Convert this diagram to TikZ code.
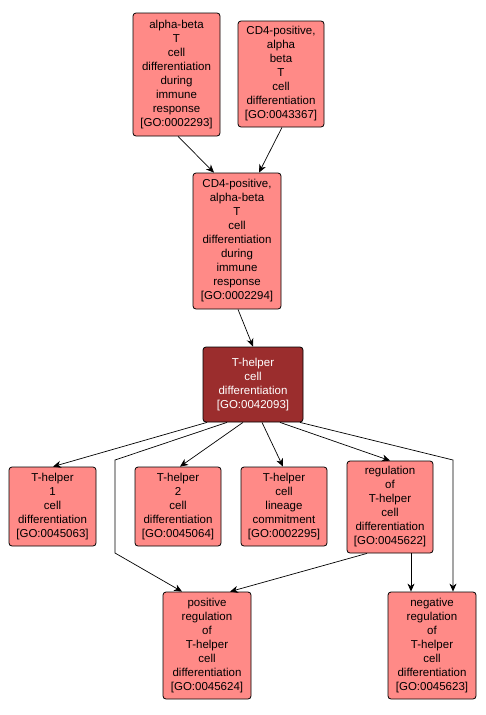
\documentclass[tikz,border=0pt]{standalone}
\usepackage{fontspec}
\setmainfont{Liberation Sans}
\usetikzlibrary{arrows.meta}
\definecolor{goLight}{HTML}{FF8A87}
\definecolor{goDark}{HTML}{9B2D2D}
\tikzset{
  gobox/.style={draw=black, line width=0.8pt, rounded corners=3pt, fill=goLight,
    align=center, inner sep=0pt, font=\fontsize{11.5}{14}\selectfont},
  godark/.style={gobox, fill=goDark, text=white},
  edge/.style={draw=black, line width=0.7pt, -{Stealth[length=8pt,width=7pt,inset=2.5pt]}},
}
\begin{document}
\begin{tikzpicture}[x=1pt,y=-1pt]
\useasboundingbox[fill=white] (0,0) rectangle (485,715);
\node[gobox, minimum width=87pt, minimum height=123pt] (A) at (176.5,74.5) {alpha-beta\\T\\cell\\differentiation\\during\\immune\\response\\{[}GO:0002293{]}};
\node[gobox, minimum width=86pt, minimum height=106pt] (B) at (281,74) {CD4-positive,\\alpha\\beta\\T\\cell\\differentiation\\{[}GO:0043367{]}};
\node[gobox, minimum width=88pt, minimum height=136pt] (C) at (237,241) {CD4-positive,\\alpha-beta\\T\\cell\\differentiation\\during\\immune\\response\\{[}GO:0002294{]}};
\node[godark, minimum width=100pt, minimum height=75pt] (D) at (253,384.5) {T-helper\\cell\\differentiation\\{[}GO:0042093{]}};
\node[gobox, minimum width=87pt, minimum height=79pt] (E) at (52.5,506.5) {T-helper\\1\\cell\\differentiation\\{[}GO:0045063{]}};
\node[gobox, minimum width=86pt, minimum height=79pt] (F) at (178,506.5) {T-helper\\2\\cell\\differentiation\\{[}GO:0045064{]}};
\node[gobox, minimum width=86pt, minimum height=79pt] (G) at (284,506.5) {T-helper\\cell\\lineage\\commitment\\{[}GO:0002295{]}};
\node[gobox, minimum width=86pt, minimum height=92pt] (H) at (390,507) {regulation\\of\\T-helper\\cell\\differentiation\\{[}GO:0045622{]}};
\node[gobox, minimum width=88pt, minimum height=107pt] (I) at (207,645.5) {positive\\regulation\\of\\T-helper\\cell\\differentiation\\{[}GO:0045624{]}};
\node[gobox, minimum width=88pt, minimum height=107pt] (J) at (432,645.5) {negative\\regulation\\of\\T-helper\\cell\\differentiation\\{[}GO:0045623{]}};
\coordinate (v1) at (115,460);
\coordinate (v2) at (115,553);
\coordinate (w1) at (453,460);
\path[edge] ([xshift=1.5pt]A.south) -- ([xshift=-23pt]C.north);
\path[edge] ([xshift=1pt]B.south) -- ([xshift=22pt]C.north);
\path[edge] ([xshift=1pt]C.south) -- (D.north);
\path[edge] ([xshift=-46pt]D.south) -- ([xshift=0.5pt]E.north);
\path[edge] ([xshift=-26pt]D.south) -- (v1) -- (v2) -- ([xshift=-25pt]I.north);
\path[edge] ([xshift=-10pt]D.south) -- ([xshift=2pt]F.north);
\path[edge] ([xshift=9pt]D.south) -- ([xshift=-1pt]G.north);
\path[edge] ([xshift=27pt]D.south) -- (H.north);
\path[edge] ([xshift=47pt]D.south) -- (w1) -- ([xshift=21pt]J.north);
\path[edge] ([xshift=-23pt]H.south) -- ([xshift=23pt]I.north);
\path[edge] ([xshift=21pt]H.south) -- ([xshift=-21pt]J.north);
\end{tikzpicture}
\end{document}
